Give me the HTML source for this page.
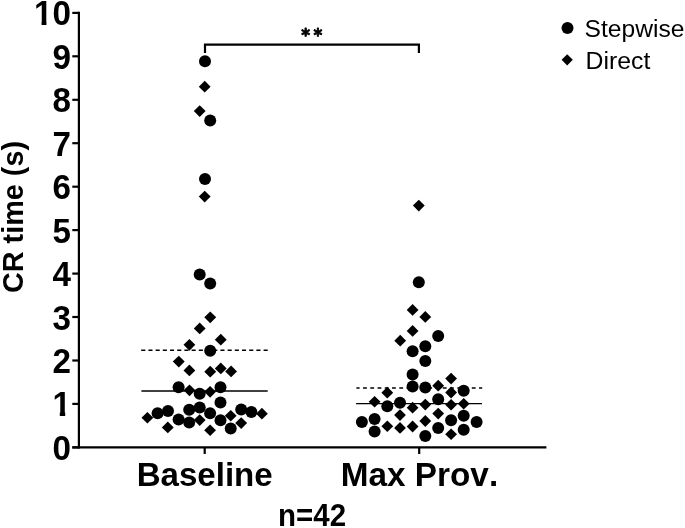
<!DOCTYPE html>
<html lang="en">
<head>
<meta charset="utf-8">
<title>CR time scatter plot</title>
<style>
html,body{margin:0;padding:0;background:#fff;}
body{width:685px;height:528px;overflow:hidden;font-family:"Liberation Sans",Arial,sans-serif;}
svg{display:block;}
</style>
</head>
<body>
<svg width="685" height="528" viewBox="0 0 685 528">
<defs>
<clipPath id="clip1"><rect x="45" y="380" width="30" height="32"/><rect x="59.8" y="411" width="5.4" height="8"/></clipPath>
<clipPath id="clip10"><rect x="28" y="-6" width="47" height="27"/><rect x="41.55" y="20" width="4.9" height="8"/><rect x="53" y="20" width="22" height="8"/></clipPath>
</defs>
<rect width="685" height="528" fill="#fff"/>
<g stroke="#000" stroke-width="2.2" fill="none">
<path d="M78.9 11.8V448.5"/>
<path d="M72.3 447.4H546.4"/>
<path d="M72.3 447.4H79"/>
<path d="M72.3 403.9H79"/>
<path d="M72.3 360.5H79"/>
<path d="M72.3 317.0H79"/>
<path d="M72.3 273.6H79"/>
<path d="M72.3 230.1H79"/>
<path d="M72.3 186.7H79"/>
<path d="M72.3 143.2H79"/>
<path d="M72.3 99.8H79"/>
<path d="M72.3 56.3H79"/>
<path d="M72.3 12.9H79"/>
<path d="M204.7 447.4V454.0"/>
<path d="M419.2 447.4V454.0"/>
<path d="M205.0 53.0V44.6H418.9V53.0"/>
</g>
<g stroke="#000" fill="none">
<path d="M141.4 391.0H267.7" stroke-width="1.3"/>
<path d="M356.1 403.6H482.0" stroke-width="1.4"/>
<path d="M141.2 350.3H267.9" stroke-width="1.6" stroke-dasharray="4.1 3.1"/>
<path d="M356.4 388.0H482.2" stroke-width="1.35" stroke-dasharray="3.8 3.45" stroke-dashoffset="0.6"/>
</g>
<g fill="#000" stroke="none">
<circle cx="205.0" cy="61.3" r="6.0"/>
<path d="M204.7 80.8L210.6 86.7L204.7 92.6L198.8 86.7Z"/>
<path d="M199.7 105.2L205.6 111.1L199.7 117.0L193.8 111.1Z"/>
<circle cx="210.2" cy="120.6" r="6.0"/>
<circle cx="205.0" cy="179.0" r="6.0"/>
<path d="M204.7 190.7L210.6 196.6L204.7 202.5L198.8 196.6Z"/>
<circle cx="199.7" cy="274.6" r="6.0"/>
<circle cx="210.2" cy="283.4" r="6.0"/>
<path d="M210.2 311.4L216.2 317.3L210.2 323.2L204.3 317.3Z"/>
<path d="M199.7 322.5L205.6 328.4L199.7 334.3L193.8 328.4Z"/>
<path d="M220.8 333.8L226.7 339.7L220.8 345.6L214.8 339.7Z"/>
<path d="M189.4 338.9L195.3 344.8L189.4 350.7L183.5 344.8Z"/>
<circle cx="210.2" cy="350.8" r="6.0"/>
<path d="M178.8 355.7L184.7 361.6L178.8 367.5L172.8 361.6Z"/>
<path d="M189.4 364.5L195.3 370.4L189.4 376.3L183.5 370.4Z"/>
<path d="M210.2 365.8L216.2 371.7L210.2 377.6L204.3 371.7Z"/>
<path d="M220.8 362.5L226.7 368.4L220.8 374.3L214.8 368.4Z"/>
<path d="M231.1 365.5L237.0 371.4L231.1 377.3L225.2 371.4Z"/>
<circle cx="178.6" cy="387.3" r="6.0"/>
<path d="M189.5 384.4L195.4 390.3L189.5 396.2L183.6 390.3Z"/>
<circle cx="199.7" cy="393.8" r="6.0"/>
<path d="M210.1 385.9L216.0 391.8L210.1 397.7L204.2 391.8Z"/>
<circle cx="220.5" cy="387.3" r="6.0"/>
<circle cx="220.5" cy="402.5" r="6.0"/>
<circle cx="199.7" cy="407.4" r="6.0"/>
<circle cx="189.2" cy="409.8" r="6.0"/>
<circle cx="168.0" cy="411.1" r="6.0"/>
<circle cx="157.6" cy="413.2" r="6.0"/>
<path d="M147.4 411.9L153.3 417.8L147.4 423.6L141.5 417.8Z"/>
<circle cx="210.1" cy="413.2" r="6.0"/>
<circle cx="241.2" cy="409.6" r="6.0"/>
<circle cx="251.4" cy="411.9" r="6.0"/>
<path d="M261.9 407.8L267.8 413.7L261.9 419.6L256.1 413.7Z"/>
<path d="M230.7 409.9L236.6 415.8L230.7 421.6L224.8 415.8Z"/>
<circle cx="178.6" cy="419.4" r="6.0"/>
<circle cx="189.2" cy="422.5" r="6.0"/>
<path d="M199.7 414.2L205.6 420.1L199.7 425.9L193.8 420.1Z"/>
<circle cx="220.5" cy="420.2" r="6.0"/>
<path d="M241.2 417.2L247.1 423.1L241.2 428.9L235.2 423.1Z"/>
<path d="M167.8 421.5L173.7 427.4L167.8 433.2L161.8 427.4Z"/>
<circle cx="230.7" cy="428.4" r="6.0"/>
<path d="M210.1 424.4L216.0 430.2L210.1 436.1L204.2 430.2Z"/>
<path d="M418.8 199.7L424.7 205.6L418.8 211.5L412.9 205.6Z"/>
<circle cx="418.8" cy="282.3" r="6.0"/>
<path d="M412.6 304.0L418.5 309.9L412.6 315.8L406.7 309.9Z"/>
<path d="M425.3 311.0L431.2 316.9L425.3 322.8L419.4 316.9Z"/>
<path d="M412.6 325.0L418.5 330.9L412.6 336.8L406.7 330.9Z"/>
<path d="M400.2 334.8L406.1 340.7L400.2 346.6L394.3 340.7Z"/>
<circle cx="438.2" cy="336.0" r="6.0"/>
<circle cx="425.3" cy="346.2" r="6.0"/>
<circle cx="412.6" cy="351.3" r="6.0"/>
<circle cx="425.3" cy="360.9" r="6.0"/>
<circle cx="412.6" cy="374.5" r="6.0"/>
<path d="M451.1 372.7L457.0 378.6L451.1 384.5L445.2 378.6Z"/>
<circle cx="412.6" cy="386.4" r="6.0"/>
<circle cx="425.3" cy="387.4" r="6.0"/>
<path d="M438.2 379.8L444.1 385.7L438.2 391.6L432.3 385.7Z"/>
<circle cx="463.7" cy="390.8" r="6.0"/>
<path d="M451.1 386.6L457.0 392.5L451.1 398.4L445.2 392.5Z"/>
<path d="M387.3 386.8L393.2 392.7L387.3 398.6L381.4 392.7Z"/>
<path d="M374.6 395.9L380.5 401.8L374.6 407.6L368.7 401.8Z"/>
<circle cx="438.2" cy="399.2" r="6.0"/>
<circle cx="400.0" cy="402.8" r="6.0"/>
<circle cx="387.3" cy="406.2" r="6.0"/>
<path d="M412.6 401.8L418.5 407.7L412.6 413.6L406.7 407.7Z"/>
<path d="M425.3 398.7L431.2 404.6L425.3 410.4L419.4 404.6Z"/>
<path d="M451.1 398.9L457.0 404.8L451.1 410.6L445.2 404.8Z"/>
<path d="M463.7 397.9L469.6 403.8L463.7 409.6L457.8 403.8Z"/>
<path d="M400.0 409.2L405.9 415.1L400.0 420.9L394.1 415.1Z"/>
<path d="M438.2 407.7L444.1 413.6L438.2 419.4L432.3 413.6Z"/>
<circle cx="463.7" cy="415.7" r="6.0"/>
<circle cx="451.1" cy="420.2" r="6.0"/>
<circle cx="374.6" cy="418.9" r="6.0"/>
<circle cx="361.9" cy="422.0" r="6.0"/>
<circle cx="476.6" cy="422.0" r="6.0"/>
<path d="M425.3 415.1L431.2 421.0L425.3 426.9L419.4 421.0Z"/>
<path d="M387.3 420.4L393.2 426.2L387.3 432.1L381.4 426.2Z"/>
<path d="M400.0 422.0L405.9 427.9L400.0 433.8L394.1 427.9Z"/>
<path d="M412.6 420.6L418.5 426.5L412.6 432.4L406.7 426.5Z"/>
<circle cx="438.2" cy="428.1" r="6.0"/>
<circle cx="463.7" cy="429.8" r="6.0"/>
<circle cx="374.6" cy="431.4" r="6.0"/>
<path d="M451.1 428.4L457.0 434.2L451.1 440.1L445.2 434.2Z"/>
<circle cx="425.3" cy="435.9" r="6.0"/>
<circle cx="567.5" cy="28.1" r="6.0"/>
<path d="M567.2 54.2L572.8 59.8L567.2 65.4L561.6 59.8Z"/>
</g>
<g font-family="'Liberation Sans', Arial, sans-serif" fill="#000" style="font-kerning:none">
<g font-weight="bold" font-size="33.2" text-anchor="end">
<text transform="translate(71.0 459.9) scale(1 1.07)">0</text>
<g clip-path="url(#clip1)"><text transform="translate(71.0 416.4) scale(1 1.07)">1</text></g>
<text transform="translate(71.0 373.0) scale(1 1.07)">2</text>
<text transform="translate(71.0 329.5) scale(1 1.07)">3</text>
<text transform="translate(71.0 286.1) scale(1 1.07)">4</text>
<text transform="translate(71.0 242.6) scale(1 1.07)">5</text>
<text transform="translate(71.0 199.2) scale(1 1.07)">6</text>
<text transform="translate(71.0 155.8) scale(1 1.07)">7</text>
<text transform="translate(71.0 112.3) scale(1 1.07)">8</text>
<text transform="translate(71.0 68.8) scale(1 1.07)">9</text>
<g clip-path="url(#clip10)"><text transform="translate(71.0 25.4) scale(1 1.07)">10</text></g>
</g>
<text font-weight="bold" font-size="33.1" text-anchor="middle" x="204.7" y="485.5">Baseline</text>
<text font-weight="bold" font-size="33.3" text-anchor="middle" x="419.5" y="485.5">Max Prov.</text>
<text font-weight="bold" font-size="29.8" transform="translate(278.1 525.7) scale(0.989 1.058)">n=42</text>
<text font-family="'DejaVu Sans', 'Liberation Sans', sans-serif" font-weight="bold" font-size="16.8" letter-spacing="3.35" text-anchor="middle" x="313.4" y="41.0" stroke="#000" stroke-width="0.8" stroke-linejoin="round">**</text>
<text font-weight="bold" font-size="28.85" text-anchor="middle" transform="translate(23.2 217.0) rotate(-90) scale(1 1.035)">CR time (s)</text>
<text font-size="24.6" x="584.6" y="36.9">Stepwise</text>
<text font-size="24.8" x="585.6" y="68.7">Direct</text>
</g>
</svg>
</body>
</html>
